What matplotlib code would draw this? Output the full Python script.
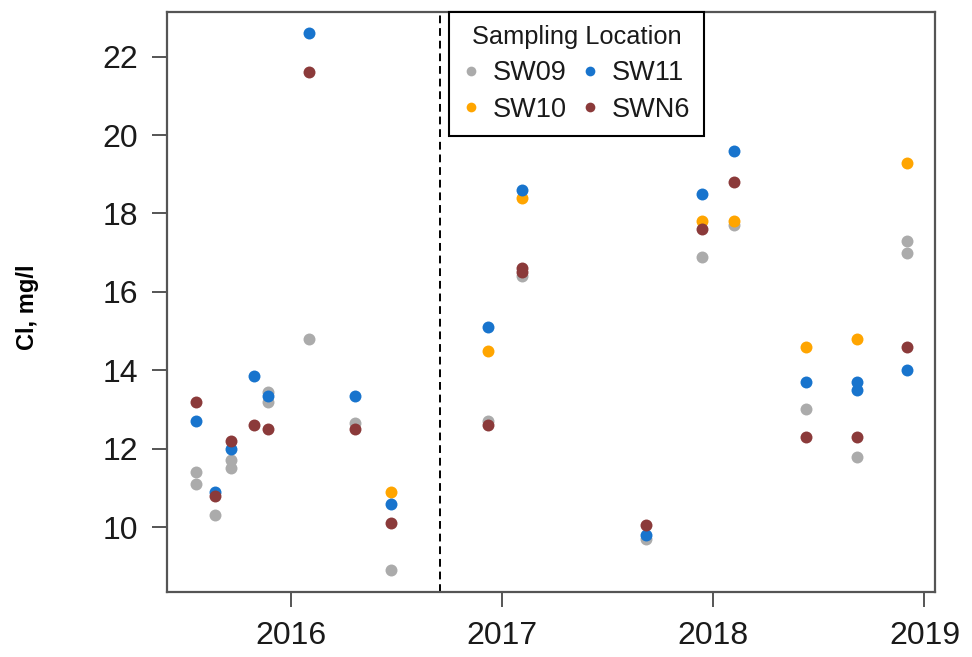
import numpy as np
import matplotlib
matplotlib.use("Agg")
import matplotlib.pyplot as plt
import matplotlib.dates as mdates
from matplotlib.lines import Line2D

plt.rcParams['font.family'] = ['Liberation Sans', 'DejaVu Sans']

# sampling dates (one per campaign)
campaigns = ['2015-07-21', '2015-08-24', '2015-09-20', '2015-10-30', '2015-11-23',
             '2016-02-02', '2016-04-22', '2016-06-23', '2016-12-07', '2017-02-04',
             '2017-09-07', '2017-12-13', '2018-02-06', '2018-06-10', '2018-09-07',
             '2018-12-01']

# campaign index and Cl value, per location
sw09_idx = [0, 0, 1, 2, 2, 4, 4, 5, 6, 7, 8, 9, 10, 11, 12, 13, 14, 15, 15]
sw09_val = [11.4, 11.1, 10.3, 11.7, 11.5, 13.45, 13.2, 14.8, 12.65, 8.9, 12.7, 16.4,
            9.7, 16.9, 17.7, 13.0, 11.8, 17.3, 17.0]

sw10_idx = [7, 8, 9, 11, 12, 13, 14, 15]
sw10_val = [10.9, 14.5, 18.4, 17.8, 17.8, 14.6, 14.8, 19.3]

sw11_idx = [0, 1, 2, 3, 4, 5, 6, 7, 8, 9, 10, 11, 12, 13, 14, 14, 15]
sw11_val = [12.7, 10.9, 12.0, 13.85, 13.35, 22.6, 13.35, 10.6, 15.1, 18.6, 9.8, 18.5,
            19.6, 13.7, 13.7, 13.5, 14.0]

swn6_idx = [0, 1, 2, 3, 4, 5, 6, 7, 8, 9, 9, 10, 11, 12, 13, 14, 15]
swn6_val = [13.2, 10.8, 12.2, 12.6, 12.5, 21.6, 12.5, 10.1, 12.6, 16.6, 16.5, 10.05,
            17.6, 18.8, 12.3, 12.3, 14.6]

locations = ['SW09', 'SW10', 'SW11', 'SWN6']
colors = ['#ABABAB', '#FFA500', '#1874CD', '#8B3A3A']
break_date = '2016-09-16'

dates = np.array(campaigns, dtype='datetime64[D]')
series = [(sw09_idx, sw09_val), (sw10_idx, sw10_val),
          (sw11_idx, sw11_val), (swn6_idx, swn6_val)]

fig = plt.figure(figsize=(9.72, 6.57), dpi=100)
ax = fig.add_axes([0.1721, 0.0994, 0.7898, 0.8828])

for (idx, val), c in zip(series, colors):
    ax.plot(dates[idx], val, 'o', color=c, markersize=8.6, markeredgewidth=0,
            linestyle='none')

ax.axvline(np.datetime64(break_date), color='black', lw=1.4, linestyle=(0, (4, 2.5)))

ax.margins(0.04)
ax.set_yticks([10, 12, 14, 16, 18, 20, 22])
ax.xaxis.set_major_locator(mdates.YearLocator())
ax.xaxis.set_major_formatter(mdates.DateFormatter('%Y'))

for s in ax.spines.values():
    s.set_color('#555555')
    s.set_linewidth(1.6)
ax.tick_params(axis='both', length=11, width=1.4, color='#555555', labelsize=23,
               pad=10, labelcolor='#1a1a1a')

ax.set_ylabel('Cl, mg/l', fontsize=17, fontweight='bold', va='center')
ax.yaxis.set_label_coords(-0.182, 0.49)

handles = [Line2D([], [], marker='o', color=c, linestyle='none', markersize=7,
                  markeredgewidth=0) for c in colors]
leg = ax.legend(handles, locations, ncol=2, title='Sampling Location',
                loc='upper left', bbox_to_anchor=(0.367, 1.0), borderaxespad=0,
                fontsize=19.5, title_fontsize=18.3, handlelength=0.6,
                handletextpad=0.52, columnspacing=0.55, labelspacing=0.4,
                borderpad=0.5, fancybox=False, framealpha=1, edgecolor='black')
leg.get_frame().set_linewidth(1.5)
for t in leg.get_texts():
    t.set_color('#1a1a1a')
leg.get_title().set_color('#1a1a1a')

fig.savefig('out.png', dpi=100)
